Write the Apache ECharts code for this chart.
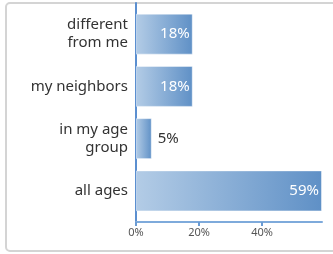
<!DOCTYPE html>
<html><head><meta charset="utf-8">
<script src="https://cdn.jsdelivr.net/npm/echarts@6/dist/echarts.min.js"></script>
<style>
html,body{margin:0;padding:0;background:#fff;}
#frame{position:absolute;left:5px;top:2px;width:340px;height:250px;border:2px solid #d4d4d4;border-radius:5px;box-sizing:border-box;}
#c{position:absolute;left:0;top:0;width:333px;height:254px;}
</style></head>
<body><div id="frame"></div><div id="c"></div>
<script>
var categories = ['different\nfrom me', 'my neighbors', 'in my age\ngroup', 'all ages'];
var values = [18, 18, 5, 59];
var tickValues = [0, 20, 40];
var axisMax = 59;

var chart = echarts.init(document.getElementById('c'));
var font = 'Noto Sans';
var grad = new echarts.graphic.LinearGradient(0, 0, 1, 0, [
  {offset: 0, color: '#b3cce6'}, {offset: 1, color: '#5f90c6'}
]);
chart.setOption({
  animation: false,
  grid: [
    {left: 136, right: 11, top: 3, bottom: 32},
    {left: 136, right: 11, top: 8, bottom: 37}
  ],
  xAxis: [
    {type: 'value', gridIndex: 0, min: 0, max: axisMax,
     axisLine: {show: true, lineStyle: {color: '#7eaadb', width: 2}},
     axisTick: {show: true, length: 4, customValues: tickValues, lineStyle: {color: '#6a9bd3', width: 2}},
     axisLabel: {customValues: tickValues, formatter: '{value}%', color: '#555', fontSize: 11, fontFamily: font, margin: 5},
     splitLine: {show: false}},
    {type: 'value', gridIndex: 1, min: 0, max: axisMax, show: false}
  ],
  yAxis: [
    {type: 'category', gridIndex: 0, data: categories, inverse: true,
     axisLine: {show: true, lineStyle: {color: '#5b8fd0', width: 2}},
     axisTick: {show: false}, axisLabel: {show: false}},
    {type: 'category', gridIndex: 1, data: categories, inverse: true,
     axisLine: {show: false}, axisTick: {show: false},
     axisLabel: {color: '#333', fontSize: 15, fontFamily: font, margin: 8, lineHeight: 18}}
  ],
  series: [{
    type: 'bar', xAxisIndex: 1, yAxisIndex: 1, data: values.map(function(v){
      return {value: v, label: v < 10 ? {position: 'right', color: '#333', distance: 6} : {}};
    }),
    barWidth: 41,
    itemStyle: {color: grad, borderColor: 'rgba(255,255,255,0.45)', borderWidth: 1},
    label: {show: true, position: 'insideRight', formatter: '{c}%', color: '#fff', fontSize: 15, fontFamily: font, distance: 3}
  }]
});
</script></body></html>
